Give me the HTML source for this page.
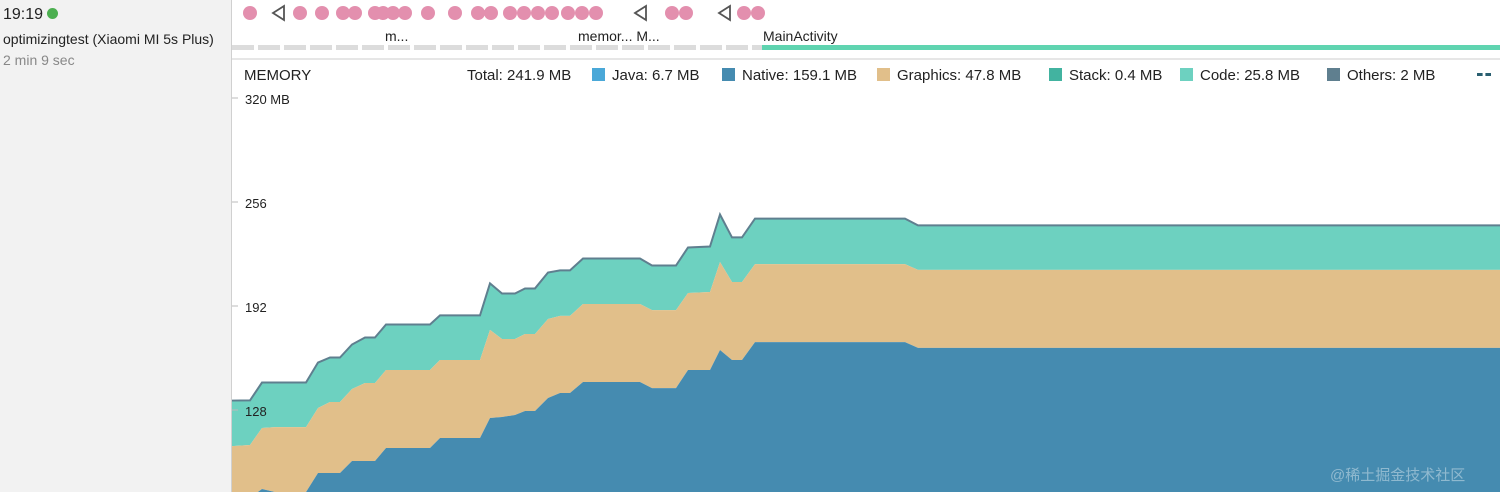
<!DOCTYPE html>
<html><head><meta charset="utf-8"><style>
body{margin:0;width:1500px;height:492px;overflow:hidden;background:#fff;font-family:"Liberation Sans","Noto Sans CJK SC",sans-serif;position:relative}
#left{position:absolute;left:0;top:0;width:231px;height:492px;background:#f2f2f2;border-right:1px solid #d0d0d0}
.t{position:absolute;white-space:nowrap;color:#222}
.leg{position:absolute;top:67px;font-size:15px;color:#222;white-space:nowrap}
.sw{display:inline-block;width:13px;height:13px;vertical-align:-1px;margin-right:7px}
</style></head><body>
<div id="left">
<div class="t" style="left:3px;top:6px;font-size:16px">19:19 <span style="display:inline-block;width:11px;height:11px;border-radius:50%;background:#4caf50"></span></div>
<div class="t" style="left:3px;top:31px;font-size:14px">optimizingtest (Xiaomi MI 5s Plus)</div>
<div class="t" style="left:3px;top:52px;font-size:14px;color:#888">2 min 9 sec</div>
</div>
<div style="position:absolute;left:232px;top:58px;width:1268px;height:2px;background:#e6e6e6"></div>
<div class="t" style="left:244px;top:67px;font-size:15px">MEMORY</div>
<div class="leg" style="left:467px">Total: 241.9 MB</div>
<div class="leg" style="left:592px"><span class="sw" style="background:#4aa8d8"></span>Java: 6.7 MB</div>
<div class="leg" style="left:722px"><span class="sw" style="background:#458bb0"></span>Native: 159.1 MB</div>
<div class="leg" style="left:877px"><span class="sw" style="background:#e1bf8a"></span>Graphics: 47.8 MB</div>
<div class="leg" style="left:1049px"><span class="sw" style="background:#42b3a0"></span>Stack: 0.4 MB</div>
<div class="leg" style="left:1180px"><span class="sw" style="background:#6dd1c0"></span>Code: 25.8 MB</div>
<div class="leg" style="left:1327px"><span class="sw" style="background:#5f7f8f"></span>Others: 2 MB</div>
<div style="position:absolute;left:1477px;top:73px;width:14px;height:3px;border-top:3px dashed #2a5f70"></div>
<svg id="c" width="1500" height="492" style="position:absolute;left:0;top:0"></svg>
<div class="t" style="left:1330px;top:464px;font-size:15px;color:rgba(255,255,255,0.4)">@稀土掘金技术社区</div>
<script>
const times=[0,18,30,43,74,86,98,108,120,133,143,154,198,208,248,258,270,283,293,303,316,328,338,351,408,420,444,456,478,488,500,510,523,673,686,1268];
const nativeMB=[72.6,74,79.4,77.5,77.5,89.2,89.2,89.2,96.6,96.6,96.6,104.6,104.6,110.8,110.8,123.1,123.7,124.9,127.4,127.4,135.4,138.5,138.5,145.2,145.2,141.5,141.5,152.6,152.6,164.9,158.8,158.8,169.8,169.8,166.2,166.2];
const graphicsMB=[33.2,32.5,37.5,40,40,40,43.7,43.7,44.3,48,48,48,48,48,48,54.2,48,46.8,47.4,47.4,48.6,47.4,47.4,48,48,48,48,47.4,48,54.2,48,48,48,48,48,48];
const codeMB=[27.7,27.1,27.7,27.1,27.1,27.7,27.1,27.1,27.1,27.7,27.7,27.7,27.7,27.1,27.1,28.3,27.7,27.7,27.7,27.7,28.3,27.7,27.7,27.7,27.7,27.1,27.1,27.7,27.7,28.9,27.1,27.1,27.7,27.7,27.1,27.1];
const yTicks=[128,192,256,320];
const yTickLabels=["128","192","256","320 MB"];
const eventCircles=[18,68,90,111,123,143,151,161,173,196,223,246,259,278,292,306,320,336,350,364,440,454,512,526];
const eventTriangles=[46,408,492];
const NS="http://www.w3.org/2000/svg";
const svg=document.getElementById('c');
const X=t=>232+t;
const Y=v=>410-(v-128)*1.625;
function mk(tag,a){const e=document.createElementNS(NS,tag);for(const k in a)e.setAttribute(k,a[k]);svg.appendChild(e);return e;}
const s1=nativeMB,s2=nativeMB.map((v,i)=>v+graphicsMB[i]),s3=s2.map((v,i)=>v+codeMB[i]);
function area(top,bot,fill,name){let d='M'+times.map((t,i)=>X(t)+','+Y(top[i])).join('L');
 for(let i=times.length-1;i>=0;i--)d+='L'+X(times[i])+','+(bot?Y(bot[i]):500);
 const p=mk('path',{d:d+'Z',fill:fill});
 
 }
area(s3,s2,'#6dd1c0','code-area');
area(s2,s1,'#e1bf8a','graphics-area');
area(s1,null,'#458bb0','native-area');
const ln=mk('polyline',{points:times.map((t,i)=>X(t)+','+(Y(s3[i])-0.5)).join(' '),fill:'none',stroke:'#5f7f8f','stroke-width':2});


yTicks.forEach((v,i)=>{
 const tk=mk('line',{x1:232,x2:238,y1:Y(v),y2:Y(v),stroke:'#bbb'});
 
 
 const tx=mk('text',{x:245,y:Y(v)+6,'font-size':13,fill:'#222','font-family':'Liberation Sans, sans-serif'});
 tx.textContent=yTickLabels[i];
 
 
});
eventCircles.forEach(t=>{const c=mk('circle',{cx:X(t),cy:13,r:7,fill:'#e38fae'});
 
 });
eventTriangles.forEach(t=>{const p=mk('polygon',{points:(X(t)+6)+',6 '+(X(t)-5)+',13 '+(X(t)+6)+',20',fill:'none',stroke:'#555','stroke-width':1.8});
 
 });
for(let x=232;x<760;x+=26){const r=mk('rect',{x:x,y:45,width:22,height:5,fill:'#dcdcdc'});
 
 }
const g=mk('rect',{x:762,y:45,width:738,height:5,fill:'#5fd4b0'});


[["m...",385],["memor...  M...",578],["MainActivity",763]].forEach(a=>{const t=mk('text',{x:a[1],y:41,'font-size':14,fill:'#222','font-family':'Liberation Sans, sans-serif'});t.textContent=a[0];
 
 });
</script>
</body></html>
